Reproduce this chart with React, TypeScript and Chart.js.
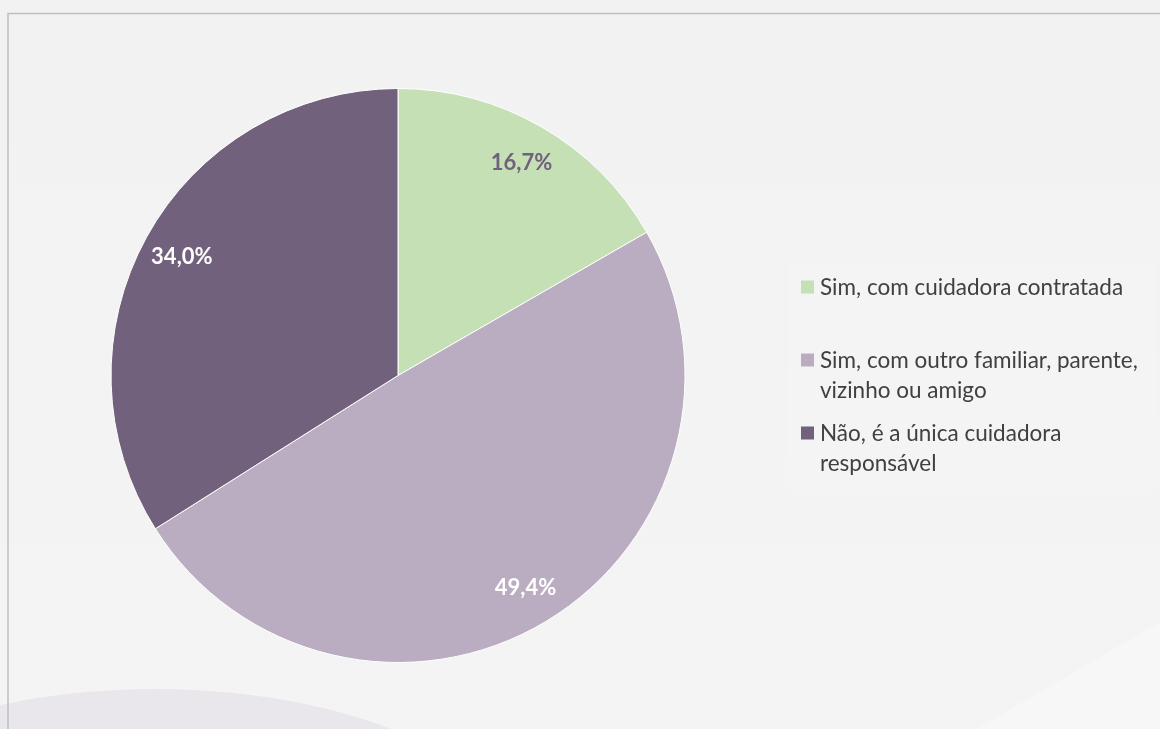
import React, { useEffect, useRef } from "react";
import { Chart, registerables } from "chart.js";

Chart.register(...registerables);

// ---- data ----
const categories = [
  "Sim, com cuidadora contratada",
  "Sim, com outro familiar, parente, vizinho ou amigo",
  "Não, é a única cuidadora responsável",
];
const values = [16.7, 49.4, 34.0];
const sliceColors = ["#c5e0b4", "#bbadc1", "#71617c"];
const labelColors = ["#71617c", "#ffffff", "#ffffff"];

const FONT = "Lato, 'Noto Sans', sans-serif";
const W = 1160;
const H = 729;

const backgroundPlugin = {
  id: "bgDecor",
  beforeDraw(chart: any) {
    const ctx = chart.ctx as CanvasRenderingContext2D;
    ctx.save();
    const g = ctx.createLinearGradient(0, 0, 0, H);
    g.addColorStop(0, "#f2f2f2");
    g.addColorStop(1, "#f4f4f4");
    ctx.fillStyle = g;
    ctx.fillRect(0, 0, W, H);
    // lower-left ellipse
    ctx.fillStyle = "#e9e6ec";
    ctx.beginPath();
    ctx.ellipse(155, 882, 388, 193, 0, 0, Math.PI * 2);
    ctx.fill();
    // lower-right diagonal
    ctx.fillStyle = "#f7f7f7";
    ctx.beginPath();
    ctx.moveTo(977, H);
    ctx.lineTo(W, 622);
    ctx.lineTo(W, H);
    ctx.closePath();
    ctx.fill();
    // frame lines
    ctx.strokeStyle = "#bfbfbf";
    ctx.lineWidth = 1.5;
    ctx.beginPath();
    ctx.moveTo(8, H);
    ctx.lineTo(8, 13.5);
    ctx.lineTo(W, 13.5);
    ctx.stroke();
    // legend box
    ctx.fillStyle = "#f4f4f4";
    ctx.fillRect(788, 263, 368, 227);
    ctx.restore();
  },
};

const sliceLabelPlugin = {
  id: "sliceLabels",
  afterDatasetsDraw(chart: any) {
    const ctx = chart.ctx as CanvasRenderingContext2D;
    const meta = chart.getDatasetMeta(0);
    const data = chart.data.datasets[0].data as number[];
    ctx.save();
    ctx.font = `bold 22px ${FONT}`;
    ctx.textAlign = "center";
    ctx.textBaseline = "middle";
    meta.data.forEach((arc: any, i: number) => {
      const p = arc.getProps(["x", "y", "startAngle", "endAngle", "outerRadius"], true);
      const mid = (p.startAngle + p.endAngle) / 2;
      const r = p.outerRadius * 0.86;
      const x = p.x + Math.cos(mid) * r;
      const y = p.y + Math.sin(mid) * r;
      ctx.fillStyle = labelColors[i];
      ctx.fillText(data[i].toFixed(1).replace(".", ",") + "%", x, y + 1);
    });
    ctx.restore();
  },
};

function wrapText(ctx: CanvasRenderingContext2D, text: string, maxW: number): string[] {
  const words = text.split(" ");
  const lines: string[] = [];
  let cur = "";
  for (const w of words) {
    const test = cur ? cur + " " + w : w;
    if (ctx.measureText(test).width > maxW && cur) {
      lines.push(cur);
      cur = w;
    } else {
      cur = test;
    }
  }
  if (cur) lines.push(cur);
  return lines;
}

const legendPlugin = {
  id: "sideLegend",
  afterDraw(chart: any) {
    const ctx = chart.ctx as CanvasRenderingContext2D;
    const labels = chart.data.labels as string[];
    const colors = chart.data.datasets[0].backgroundColor as string[];
    ctx.save();
    ctx.font = `22.5px ${FONT}`;
    ctx.textBaseline = "middle";
    ctx.textAlign = "left";
    labels.forEach((lab, i) => {
      const cy = 287 + i * 73;
      ctx.fillStyle = colors[i];
      ctx.fillRect(801, cy - 6.5, 13, 13);
      ctx.fillStyle = "#404040";
      const lines = wrapText(ctx, lab, 332);
      lines.forEach((ln, j) => ctx.fillText(ln, 820, cy + 1 + j * 30));
    });
    ctx.restore();
  },
};

export default function App() {
  const ref = useRef<HTMLCanvasElement | null>(null);
  useEffect(() => {
    if (!ref.current) return;
    const chart = new Chart(ref.current, {
      type: "pie",
      data: {
        labels: categories,
        datasets: [
          {
            data: values,
            backgroundColor: sliceColors,
            borderColor: "#ffffff",
            borderWidth: 1,
          },
        ],
      },
      options: {
        responsive: false,
        animation: false,
        devicePixelRatio: 1,
        layout: { padding: { left: 110, right: 474, top: 88, bottom: 66 } },
        plugins: {
          legend: { display: false },
          tooltip: { enabled: false },
        },
        events: [],
      },
      plugins: [backgroundPlugin, sliceLabelPlugin, legendPlugin],
    });
    return () => chart.destroy();
  }, []);
  return (
    <div style={{ position: "fixed", left: 0, top: 0, width: W, height: H, overflow: "hidden" }}>
      <canvas ref={ref} width={W} height={H} style={{ display: "block", width: W, height: H }} />
    </div>
  );
}
